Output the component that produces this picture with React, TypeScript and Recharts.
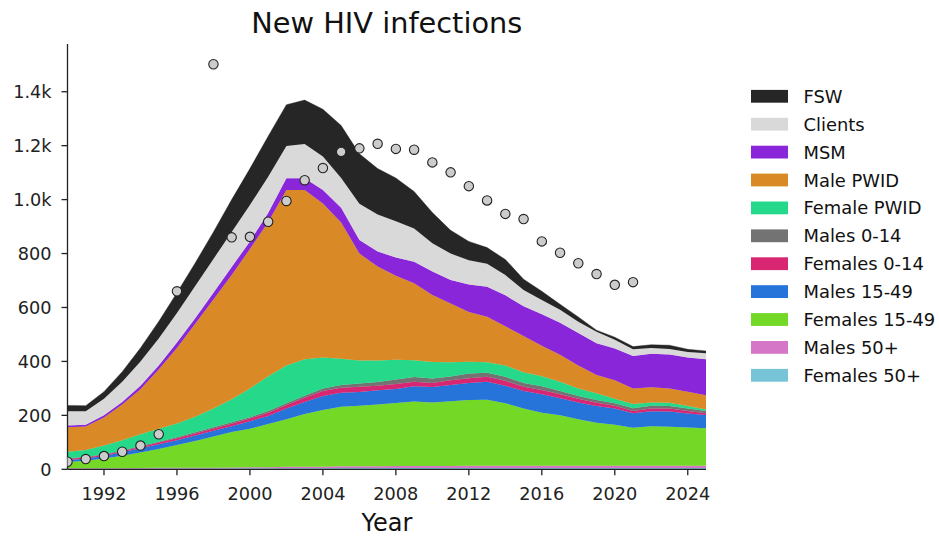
import React from 'react';
import { ComposedChart, Area, Scatter, XAxis, YAxis } from 'recharts';

const years = [1990,1991,1992,1993,1994,1995,1996,1997,1998,1999,2000,2001,2002,2003,2004,2005,2006,2007,2008,2009,2010,2011,2012,2013,2014,2015,2016,2017,2018,2019,2020,2021,2022,2023,2024,2025];

const females50 = [2,2,2,2,3,3,3,3,3,4,4,4,4,4,4,5,5,5,5,5,5,5,5,5,5,5,5,5,5,5,5,5,5,5,5,5];
const males50 = [2,2,2,2,2,3,3,3,3,3,4,4,5,5,5,6,6,6,7,7,7,7,8,8,8,8,8,8,8,8,8,8,8,8,8,8];
const females1549 = [23,28,36,46,57,69,84,99,116,131,142,160,177,196,211,221,225,229,234,239,236,240,244,245,232,212,197,187,173,160,152,141,147,145,142,139];
const males1549 = [7,8,9,13,16,18,18,20,21,22,28,30,39,45,52,52,51,53,52,57,57,61,63,67,65,65,68,63,62,62,60,54,55,56,52,49];
const females014 = [4,4,4,4,5,6,7,8,8,9,10,12,13,15,18,18,19,17,18,17,15,17,18,18,18,16,16,15,14,12,11,8,10,11,9,7];
const males014 = [3,2,3,3,3,3,4,4,5,5,5,6,7,8,10,11,12,14,17,17,17,14,17,15,15,14,14,12,10,10,9,10,11,10,9,8];
const femalePwid = [24,26,32,38,44,48,51,58,69,86,107,129,140,135,115,97,85,79,73,62,61,53,44,39,42,40,37,35,28,25,17,16,12,12,10,6];
const malePwid = [91,87,104,132,167,220,280,345,405,460,517,572,651,628,571,505,397,349,312,286,248,218,184,169,145,134,113,100,85,68,68,58,56,53,53,53];
const msm = [6,6,8,10,13,15,20,20,25,30,28,33,43,43,50,55,50,56,67,80,87,87,102,111,115,111,117,118,120,117,118,120,124,126,127,133];
const clients = [53,50,62,75,90,100,110,120,125,130,135,135,120,127,124,110,135,137,135,123,105,98,90,85,75,60,53,49,42,43,32,25,22,20,20,22];
const fsw = [22,21,26,37,50,63,75,85,100,120,135,150,153,163,175,195,185,170,160,137,114,86,70,60,58,40,32,20,18,6,10,10,12,14,10,9];

const dataYears = [1990,1991,1992,1993,1994,1995,1996,1998,1999,2000,2001,2002,2003,2004,2005,2006,2007,2008,2009,2010,2011,2012,2013,2014,2015,2016,2017,2018,2019,2020,2021];
const dataValues = [28,38,49,65,88,130,660,1502,860,862,918,995,1072,1117,1177,1190,1207,1188,1185,1138,1101,1050,997,947,928,845,803,764,724,684,694];

const xTicks = [1992,1996,2000,2004,2008,2012,2016,2020,2024];
const yTicks = [0,200,400,600,800,1000,1200,1400];

// bottom to top
const seriesDefs = [
  { key: 'f50', name: 'Females 50+', color: '#77c4d8', values: females50 },
  { key: 'm50', name: 'Males 50+', color: '#d676c6', values: males50 },
  { key: 'f1549', name: 'Females 15-49', color: '#73d926', values: females1549 },
  { key: 'm1549', name: 'Males 15-49', color: '#2673d9', values: males1549 },
  { key: 'f014', name: 'Females 0-14', color: '#d92673', values: females014 },
  { key: 'm014', name: 'Males 0-14', color: '#737373', values: males014 },
  { key: 'fpwid', name: 'Female PWID', color: '#26d98a', values: femalePwid },
  { key: 'mpwid', name: 'Male PWID', color: '#d98a26', values: malePwid },
  { key: 'msm', name: 'MSM', color: '#8a26d9', values: msm },
  { key: 'clients', name: 'Clients', color: '#d9d9d9', values: clients },
  { key: 'fsw', name: 'FSW', color: '#262626', values: fsw },
];

const chartData = years.map((y, i) => {
  const row: any = { year: y };
  seriesDefs.forEach((s) => { row[s.key] = s.values[i]; });
  return row;
});

const pointData = dataYears.map((y, i) => ({ year: y, value: dataValues[i] }));

const FONT = 'DejaVu Sans, Verdana, sans-serif';
const INK = '#222222';

const fmtY = (v: number) => (v >= 1000 ? (v / 1000).toFixed(1) + 'k' : String(v));

const Dot = (props: any) => {
  const { cx, cy } = props;
  if (cx == null || cy == null) return null;
  return <circle cx={cx} cy={cy} r={4.7} fill="#cccccc" stroke="#222222" strokeWidth={1.1} />;
};

export default function App() {
  const legendItems = [...seriesDefs].reverse();
  return (
    <div style={{ position: 'absolute', left: 0, top: 0, width: 939, height: 539, background: '#fff' }}>
      <ComposedChart
        width={939}
        height={539}
        data={chartData}
        margin={{ top: 44, right: 233, bottom: 39.7, left: 0 }}
      >
        <XAxis
          dataKey="year"
          type="number"
          domain={[1990, 2025]}
          ticks={xTicks}
          allowDataOverflow
          height={30}
          tickSize={6}
          tickMargin={12}
          axisLine={{ stroke: INK, strokeWidth: 1.3 }}
          tickLine={{ stroke: INK, strokeWidth: 1.3 }}
          tick={{ fill: INK, fontSize: 17.7, fontFamily: FONT }}
        />
        <YAxis
          type="number"
          domain={[0, 1577]}
          ticks={yTicks}
          allowDataOverflow
          width={67.5}
          tickSize={6}
          tickMargin={10}
          tickFormatter={fmtY}
          axisLine={{ stroke: INK, strokeWidth: 1.3 }}
          tickLine={{ stroke: INK, strokeWidth: 1.3 }}
          tick={{ fill: INK, fontSize: 17.7, fontFamily: FONT }}
        />
        {seriesDefs.map((s) => (
          <Area
            key={s.key}
            dataKey={s.key}
            name={s.name}
            stackId="1"
            type="linear"
            fill={s.color}
            fillOpacity={1}
            stroke={s.color}
            strokeWidth={0.4}
            isAnimationActive={false}
            dot={false}
            activeDot={false}
          />
        ))}
        <Scatter data={pointData} dataKey="value" shape={<Dot />} isAnimationActive={false} />
      </ComposedChart>
      <svg
        width={939}
        height={539}
        style={{ position: 'absolute', left: 0, top: 0, pointerEvents: 'none' }}
        fontFamily={FONT}
      >
        <text x={386.75} y={32.7} textAnchor="middle" fontSize={28.8} fill="#111">New HIV infections</text>
        <text x={387} y={531} textAnchor="middle" fontSize={24} fill="#111">Year</text>
        {legendItems.map((s, i) => {
          const cy = 96.3 + i * 27.9;
          return (
            <g key={s.key}>
              <rect x={751} y={cy - 6.4} width={37} height={12.8} fill={s.color} />
              <text x={803.5} y={cy + 6.5} fontSize={17.9} fill="#111">{s.name}</text>
            </g>
          );
        })}
      </svg>
    </div>
  );
}
